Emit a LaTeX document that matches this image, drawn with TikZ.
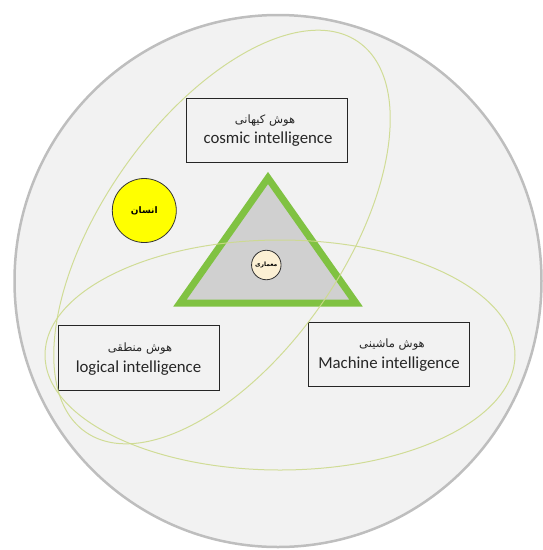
\documentclass[tikz,border=0pt]{standalone}
\usepackage{fontspec}
\setmainfont{Carlito}
\newfontfamily\fa[Script=Arabic]{DejaVu Sans}
\TeXXeTstate=1
\usetikzlibrary{shapes.geometric}
\definecolor{bgc}{RGB}{242,242,242}
\definecolor{rimc}{RGB}{190,190,190}
\definecolor{ellc}{RGB}{205,218,140}
\definecolor{trig}{RGB}{128,194,66}
\definecolor{trifill}{RGB}{208,208,208}
\definecolor{cream}{RGB}{252,240,212}
\definecolor{yel}{RGB}{255,255,0}
\tikzset{
  world/.style={ellipse, draw=rimc, line width=2.5pt, fill=bgc, inner sep=0pt},
  ovl/.style={draw=ellc, line width=1pt, opacity=0.9},
  tri/.style={draw=trig, line width=7pt, fill=trifill, line join=miter},
  box/.style={draw=black!85, line width=0.8pt, minimum width=161pt, minimum height=64pt, inner sep=0pt},
  entext/.style={font=\fontsize{16.8}{18}\selectfont, inner sep=0pt, text=black!85},
  fatext/.style={font=\fa\fontsize{11.5}{13}\selectfont, inner sep=0pt, text=black!85},
  disc/.style={circle, draw=black!80, line width=0.8pt, inner sep=0pt}
}
\begin{document}
\begin{tikzpicture}[x=1pt,y=-1pt]
\useasboundingbox (0,0) rectangle (542,550);
\node[world, minimum width=527pt, minimum height=532pt] (worldc) at (278,281) {};
% triangle
\coordinate (ta) at (268,178);
\coordinate (tl) at (180,303);
\coordinate (tr) at (356,303);
\draw[tri] (ta) -- (tl) -- (tr) -- cycle;
% boxes
\node[box] (cosmic) at (267,130.5) {};
\node[box, minimum height=65pt] (logical) at (139.3,357.5) {};
\node[box] (machine) at (388.7,354.7) {};
\node[fatext] (cosmicfa) at (265,121) {\beginR هوش کیهانی\endR};
\node[entext] (cosmicen) at (268,139.5) {cosmic intelligence};
\node[fatext] (logicalfa) at (140,349) {\beginR هوش منطقی\endR};
\node[entext] (logicalen) at (138.5,368) {logical intelligence};
\node[fatext] (machinefa) at (392,345) {\beginR هوش ماشینی\endR};
\node[entext] (machineen) at (389,364) {Machine intelligence};
% discs
\node[disc, fill=yel, minimum size=64pt] (human) at (144.3,210.5) {\fa\bfseries\fontsize{9}{10}\selectfont\beginR انسان\endR};
\node[disc, fill=cream, minimum size=29.5pt] (arch) at (266.3,265) {\fa\bfseries\fontsize{6}{7}\selectfont\beginR معماری\endR};
% overlapping ellipses
\draw[ovl, rotate around={55:(222,237)}] (222,237) ellipse [x radius=238, y radius=120];
\draw[ovl] (280,355) ellipse [x radius=235, y radius=115];
\end{tikzpicture}
\end{document}
